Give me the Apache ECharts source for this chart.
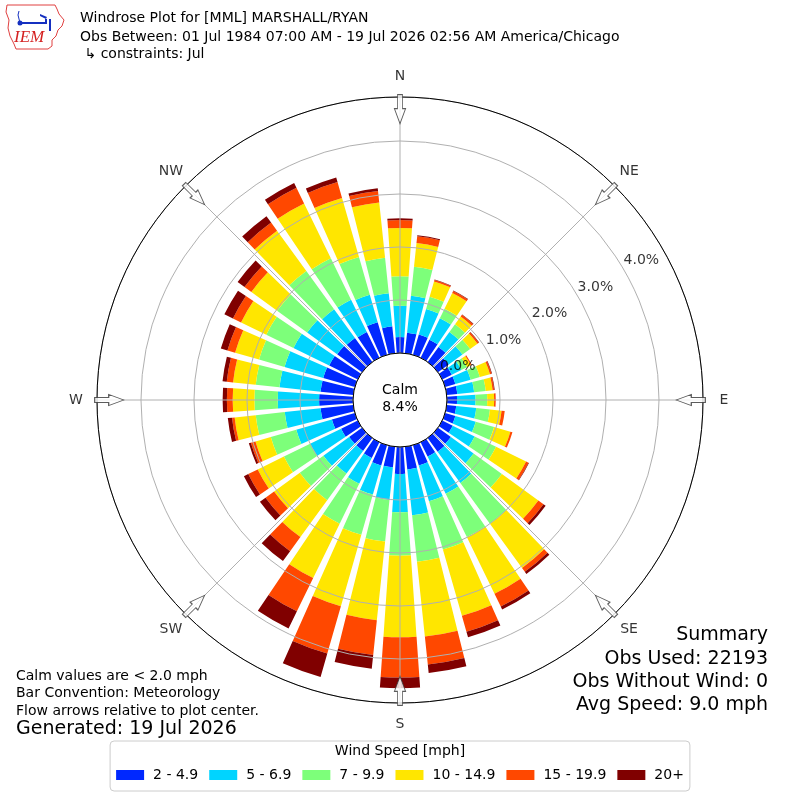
<!DOCTYPE html>
<html>
<head>
<meta charset="utf-8">
<script src="https://cdn.jsdelivr.net/npm/echarts@6/dist/echarts.min.js"></script>
<style>
html,body{margin:0;padding:0;background:#fff;}
#chart{width:800px;height:800px;}
</style>
</head>
<body>
<div id="chart"></div>
<script>
// ---------- data ----------
const directions = [0,10,20,30,40,50,60,70,80,90,100,110,120,130,140,150,160,170,180,190,200,210,220,230,240,250,260,270,280,290,300,310,320,330,340,350];
const speedBins = ['2 - 4.9','5 - 6.9','7 - 9.9','10 - 14.9','15 - 19.9','20+'];
const bin2to5   = [0.30,0.39,0.40,0.38,0.35,0.25,0.20,0.20,0.20,0.19,0.18,0.20,0.22,0.30,0.32,0.30,0.40,0.43,0.51,0.39,0.40,0.33,0.30,0.30,0.35,0.45,0.62,0.64,0.62,0.62,0.60,0.58,0.56,0.54,0.64,0.51];
const bin5to7   = [0.59,0.70,0.50,0.45,0.35,0.32,0.20,0.30,0.32,0.35,0.38,0.40,0.46,0.53,0.73,0.78,0.70,0.87,0.72,0.62,0.57,0.54,0.53,0.60,0.65,0.70,0.68,0.78,0.78,0.76,0.75,0.70,0.67,0.68,0.54,0.63];
const bin7to10  = [0.56,0.55,0.24,0.20,0.18,0.18,0.12,0.18,0.22,0.22,0.26,0.36,0.45,0.66,0.95,0.91,0.95,0.88,0.82,0.79,0.79,0.84,0.62,0.55,0.55,0.50,0.55,0.44,0.45,0.50,0.57,0.70,0.89,0.87,0.74,0.67];
const bin10to15 = [0.91,0.45,0.30,0.33,0.18,0.17,0.08,0.20,0.13,0.13,0.22,0.32,0.63,0.85,1.03,1.19,1.30,1.42,1.54,1.49,1.40,1.14,0.86,0.60,0.55,0.30,0.40,0.41,0.43,0.47,0.53,0.60,0.94,1.15,1.16,1.05];
const bin15to20 = [0.15,0.13,0.03,0.04,0.04,0.03,0.02,0.03,0.03,0.03,0.06,0.04,0.05,0.12,0.09,0.27,0.31,0.53,0.76,0.66,0.93,0.70,0.33,0.20,0.20,0.09,0.05,0.11,0.12,0.15,0.17,0.16,0.19,0.33,0.31,0.22];
const bin20plus = [0.03,0.02,0.01,0.01,0.01,0.01,0.00,0.01,0.01,0.00,0.00,0.00,0.01,0.05,0.05,0.06,0.11,0.16,0.20,0.26,0.46,0.36,0.23,0.13,0.09,0.04,0.08,0.08,0.08,0.13,0.18,0.16,0.15,0.10,0.09,0.05];
const ringTicks = [0,1,2,3,4];
const compassAngles = [0,45,90,135,180,225,270,315];
const compassNames = ['N','NE','E','SE','S','SW','W','NW'];
const calmPct = 8.4;
const titleLines = [
  'Windrose Plot for [MML] MARSHALL/RYAN',
  'Obs Between: 01 Jul 1984 07:00 AM - 19 Jul 2026 02:56 AM America/Chicago',
  ' \u21b3 constraints: Jul'
];
const noteLines = ['Calm values are < 2.0 mph','Bar Convention: Meteorology','Flow arrows relative to plot center.'];
const generatedText = 'Generated: 19 Jul 2026';
const summaryLines = ['Summary','Obs Used: 22193','Obs Without Wind: 0','Avg Speed: 9.0 mph'];

// ---------- styling / layout ----------
const FONT = 'DejaVu Sans';
const colors = ['#0028ff','#00d4ff','#7dff7a','#ffe600','#ff4800','#800000'];
const binData = [bin2to5, bin5to7, bin7to10, bin10to15, bin15to20, bin20plus];
const CX = 400, CY = 400, R_IN = 47, R_OUT = 303, RMAX = 4.83, ARROW_R = 4.6;
const R_LABEL = 324, LABEL_MAX = 5.226;   // same px-per-% scale as the main plot

const chart = echarts.init(document.getElementById('chart'), null, {renderer:'canvas'});

const barSeries = speedBins.map((name, i) => ({
  name: name,
  type: 'bar',
  coordinateSystem: 'polar',
  polarIndex: 0,
  stack: 'speed',
  barCategoryGap: '20%',
  data: binData[i],
  itemStyle: {color: colors[i]},
  silent: true,
  z: 2
}));

function txt(text, x, y, size, align) {
  return {
    type: 'text',
    style: {
      text: text, x: x, y: y,
      font: size + 'px "' + FONT + '"',
      fill: '#000',
      align: align, textAlign: align,
      verticalAlign: 'middle', textVerticalAlign: 'middle'
    },
    z: 100
  };
}

const graphics = [];
titleLines.forEach((t, i) => graphics.push(txt(t, 80, [18, 37, 54][i], 14, 'left')));
noteLines.forEach((t, i) => graphics.push(txt(t, 16, [676, 693, 711][i], 14, 'left')));
graphics.push(txt(generatedText, 16, 729, 19, 'left'));
summaryLines.forEach((t, i) => graphics.push(txt(t, 768, [635, 659, 682, 705][i], 19, 'right')));
graphics.push({
  type: 'text',
  style: {
    text: 'Calm\n' + calmPct.toFixed(1) + '%', x: CX, y: CY - 1,
    font: '14px "' + FONT + '"', fill: '#000', lineHeight: 17,
    align: 'center', textAlign: 'center', verticalAlign: 'middle', textVerticalAlign: 'middle'
  },
  z: 100
});
// IEM logo (approximation)
graphics.push({
  type: 'polygon',
  shape: {points: [[7,5],[55,5],[57,9],[59,14],[64,20],[62,26],[58,30],[56,36],[52,40],[52,46],[48,49],[16,49],[14,44],[10,36],[8,28],[9,20],[6,12]]},
  style: {fill: 'none', stroke: '#e04040', lineWidth: 1},
  z: 100
});
graphics.push({type:'polyline', shape:{points:[[20,23],[46,23],[46,19]]}, style:{stroke:'#1530c0', lineWidth:2, fill:'none'}, z:100});
graphics.push({type:'polyline', shape:{points:[[20,23],[18,15],[19,11]]}, style:{stroke:'#1530c0', lineWidth:1, fill:'none'}, z:100});
graphics.push({type:'polygon', shape:{points:[[40,14],[47,17],[46,19],[40,16]]}, style:{fill:'#1530c0'}, z:100});
graphics.push({type:'line', shape:{x1:50,y1:19,x2:50,y2:31}, style:{stroke:'#1530c0', lineWidth:2}, z:100});
graphics.push({type:'circle', shape:{cx:20,cy:23,r:2.5}, style:{fill:'#1530c0'}, z:100});
graphics.push({type:'text', style:{text:'IEM', x:14, y:38, font:'italic 17px "Liberation Serif"', fill:'#d42020', verticalAlign:'middle', textVerticalAlign:'middle'}, z:100});

const hiddenAxisParts = {axisLine: {show: false}, axisTick: {show: false}, axisLabel: {show: false}, splitLine: {show: false}};

const option = {
  animation: false,
  backgroundColor: '#ffffff',
  textStyle: {fontFamily: FONT},
  title: [{
    text: 'Wind Speed [mph]', left: 'center', top: 739,
    textStyle: {fontSize: 14, fontWeight: 'normal', color: '#000', fontFamily: FONT}
  }],
  legend: {
    data: speedBins, left: 'center', top: 741,
    icon: 'rect', itemWidth: 28, itemHeight: 10, itemGap: 11,
    padding: [27, 6, 9, 6],
    borderColor: '#cccccc', borderWidth: 1, borderRadius: 4,
    selectedMode: false,
    textStyle: {fontSize: 14, color: '#000', fontFamily: FONT, padding: [0, 0, 0, 4]}
  },
  polar: [
    {center: [CX, CY], radius: [R_IN, R_OUT]},
    {center: [CX, CY], radius: [R_IN, R_OUT]},
    {center: [CX, CY], radius: [R_IN, R_LABEL]}
  ],
  angleAxis: [
    {
      polarIndex: 0, type: 'category', data: directions.map(String),
      startAngle: 95, clockwise: true, boundaryGap: true,
      axisLine: {show: true, lineStyle: {color: '#000', width: 1}},
      axisTick: {show: false}, axisLabel: {show: false}, splitLine: {show: false},
      z: 12
    },
    {
      polarIndex: 1, type: 'value', min: 0, max: 360, interval: 45,
      startAngle: 90, clockwise: true,
      axisLine: {show: false}, axisTick: {show: false},
      axisLabel: {show: false},
      splitLine: {show: true, lineStyle: {color: '#b0b0b0', width: 1}},
      z: 10
    },
    Object.assign({polarIndex: 2, type: 'value', min: 0, max: 360, interval: 45, startAngle: 90, clockwise: true}, hiddenAxisParts)
  ],
  radiusAxis: [
    {
      polarIndex: 0, type: 'value', min: 0, max: RMAX, interval: 1,
      axisLine: {show: false}, axisTick: {show: false}, axisLabel: {show: false},
      splitLine: {show: true, lineStyle: {color: '#b0b0b0', width: 1}},
      z: 10
    },
    Object.assign({polarIndex: 1, type: 'value', min: 0, max: RMAX, interval: 1}, hiddenAxisParts),
    Object.assign({polarIndex: 2, type: 'value', min: 0, max: LABEL_MAX, interval: 1}, hiddenAxisParts)
  ],
  series: barSeries.concat([
    {
      name: 'ringLabels', type: 'scatter', coordinateSystem: 'polar', polarIndex: 1,
      data: ringTicks.map(t => [t, 60]),
      symbolSize: 1, itemStyle: {color: 'rgba(0,0,0,0)'},
      silent: true, z: 15,
      label: {
        show: true, position: 'inside', offset: [17, -10],
        formatter: p => p.value[0].toFixed(1) + '%',
        fontSize: 14, color: '#000', fontFamily: FONT
      }
    },
    {
      name: 'compassLabels', type: 'scatter', coordinateSystem: 'polar', polarIndex: 2,
      data: compassAngles.map(a => [LABEL_MAX, a]),
      symbolSize: 1, itemStyle: {color: 'rgba(0,0,0,0)'},
      silent: true, z: 15,
      label: {
        show: true, position: 'inside',
        formatter: p => compassNames[p.dataIndex],
        fontSize: 14, color: '#000', fontFamily: FONT
      }
    },
    {
      name: 'flowArrows', type: 'scatter', coordinateSystem: 'polar', polarIndex: 1,
      data: compassAngles.map(a => ({value: [ARROW_R, a], symbolRotate: -a})),
      symbol: 'path://M5,0 L13,0 L13,14 L18,14 L9,29 L0,14 L5,14 Z',
      symbolSize: [18, 29], symbolKeepAspect: true,
      itemStyle: {color: '#ffffff', borderColor: '#333333', borderWidth: 1},
      silent: true, z: 20
    }
  ]),
  graphic: graphics
};
chart.setOption(option);
</script>
</body>
</html>
